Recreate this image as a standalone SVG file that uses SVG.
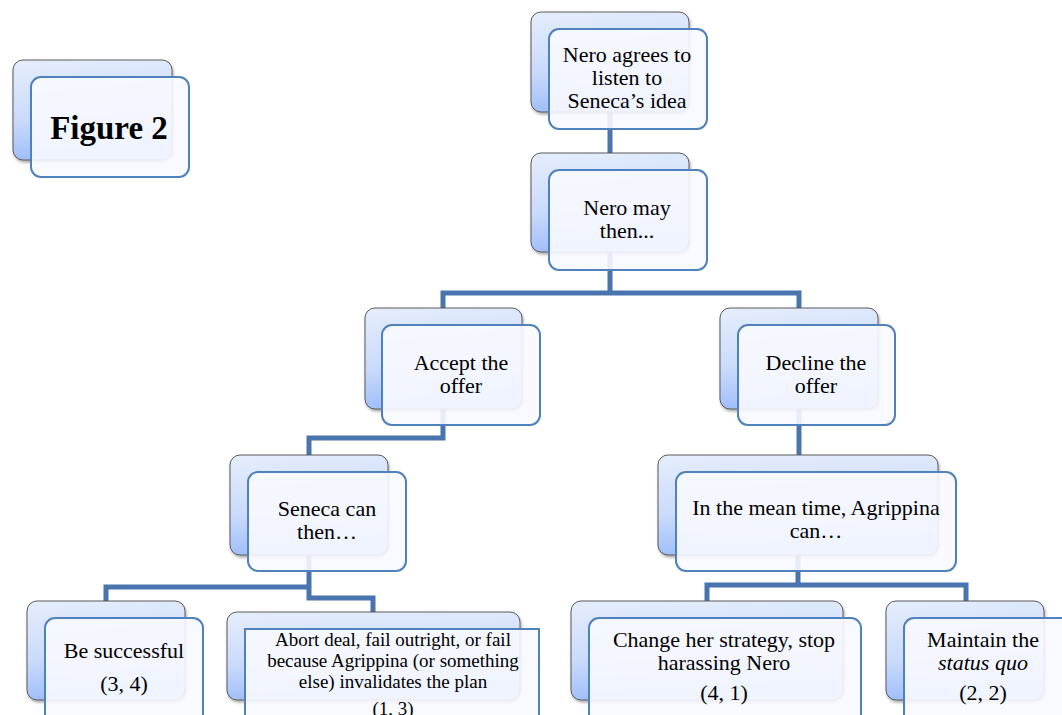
<svg xmlns="http://www.w3.org/2000/svg" width="1062" height="715" viewBox="0 0 1062 715">
<defs>
<linearGradient id="bg" x1="0" y1="0" x2="0.15" y2="1">
<stop offset="0" stop-color="#e6eefc"/>
<stop offset="0.6" stop-color="#c9dafb"/>
<stop offset="1" stop-color="#9ebefa"/>
</linearGradient>
<filter id="sh" x="-10%" y="-10%" width="125%" height="130%">
<feDropShadow dx="1" dy="2" stdDeviation="1.5" flood-color="#000" flood-opacity="0.35"/>
</filter>
</defs>
<style>
.back{fill:url(#bg);stroke:#5a5a5a;stroke-width:1;filter:url(#sh)}
.front{fill:#f8faff;fill-opacity:0.9;stroke:#4f81bd;stroke-width:2}
.t{font-family:"Liberation Serif","Times New Roman",serif;font-size:22px;fill:#000;text-anchor:middle}
.s{font-size:19px}
.conn{fill:none;stroke:#4a74ad;stroke-width:5}
</style>
<rect width="1062" height="715" fill="#fff"/>
<g id="connectors">
<path class="conn" d="M610,112 V153"/>
<path class="conn" d="M610,252 V293 M443,308 V293 H799 V308"/>
<path class="conn" d="M443,409 V438 H309 V455"/>
<path class="conn" d="M799,409 V455"/>
<path class="conn" d="M309,555 V587 H106 V601 M309,587 V598 H373 V612"/>
<path class="conn" d="M798,555 V585 H707 V601 M798,585 H966 V601"/>
</g>
<g id="fig">
<rect class="back" x="13" y="60" width="159" height="100" rx="10"/>
<rect class="front" x="31" y="77" width="158" height="100" rx="10"/>
<text class="t" x="109" y="139" style="font-size:33px;font-weight:bold">Figure 2</text>
</g>
<g id="n1">
<rect class="back" x="531" y="12" width="158" height="100" rx="10"/>
<rect class="front" x="549" y="29" width="158" height="100" rx="10"/>
<text class="t" x="627" y="62">Nero agrees to</text>
<text class="t" x="627" y="85">listen to</text>
<text class="t" x="627" y="108">Seneca’s idea</text>
</g>
<g id="n2">
<rect class="back" x="531" y="153" width="158" height="99" rx="10"/>
<rect class="front" x="549" y="170" width="158" height="100" rx="10"/>
<text class="t" x="627" y="215">Nero may</text>
<text class="t" x="627" y="238">then...</text>
</g>
<g id="n3">
<rect class="back" x="365" y="308" width="157" height="101" rx="10"/>
<rect class="front" x="382" y="325" width="158" height="100" rx="10"/>
<text class="t" x="461" y="370">Accept the</text>
<text class="t" x="461" y="393">offer</text>
</g>
<g id="n4">
<rect class="back" x="720" y="308" width="158" height="101" rx="10"/>
<rect class="front" x="738" y="325" width="157" height="100" rx="10"/>
<text class="t" x="816" y="370">Decline the</text>
<text class="t" x="816" y="393">offer</text>
</g>
<g id="n5">
<rect class="back" x="230" y="455" width="158" height="100" rx="10"/>
<rect class="front" x="248" y="472" width="158" height="99" rx="10"/>
<text class="t" x="327" y="516">Seneca can</text>
<text class="t" x="327" y="539">then…</text>
</g>
<g id="n6">
<rect class="back" x="658" y="455" width="280" height="100" rx="10"/>
<rect class="front" x="676" y="472" width="280" height="99" rx="10"/>
<text class="t" x="816" y="515">In the mean time, Agrippina</text>
<text class="t" x="816" y="538">can…</text>
</g>
<g id="n7">
<rect class="back" x="27" y="601" width="158" height="99" rx="10"/>
<rect class="front" x="45" y="618" width="158" height="110" rx="10"/>
<text class="t" x="124" y="658">Be successful</text>
<text class="t" x="124" y="691">(3, 4)</text>
</g>
<g id="n8">
<rect class="back" x="227" y="612" width="293" height="88" rx="10"/>
<rect class="front" x="245" y="629" width="294" height="100"/>
<text class="t s" x="393" y="646">Abort deal, fail outright, or fail</text>
<text class="t s" x="393" y="667">because Agrippina (or something</text>
<text class="t s" x="393" y="688">else) invalidates the plan</text>
<text class="t s" x="393" y="715">(1, 3)</text>
</g>
<g id="n9">
<rect class="back" x="571" y="601" width="272" height="99" rx="10"/>
<rect class="front" x="589" y="618" width="272" height="110" rx="10"/>
<text class="t" x="724" y="647">Change her strategy, stop</text>
<text class="t" x="724" y="670">harassing Nero</text>
<text class="t" x="724" y="700">(4, 1)</text>
</g>
<g id="n10">
<rect class="back" x="886" y="601" width="158" height="99" rx="10"/>
<rect class="front" x="904" y="618" width="170" height="110" rx="10"/>
<text class="t" x="983" y="647">Maintain the</text>
<text class="t" x="983" y="670" font-style="italic">status quo</text>
<text class="t" x="983" y="700">(2, 2)</text>
</g>
</svg>
